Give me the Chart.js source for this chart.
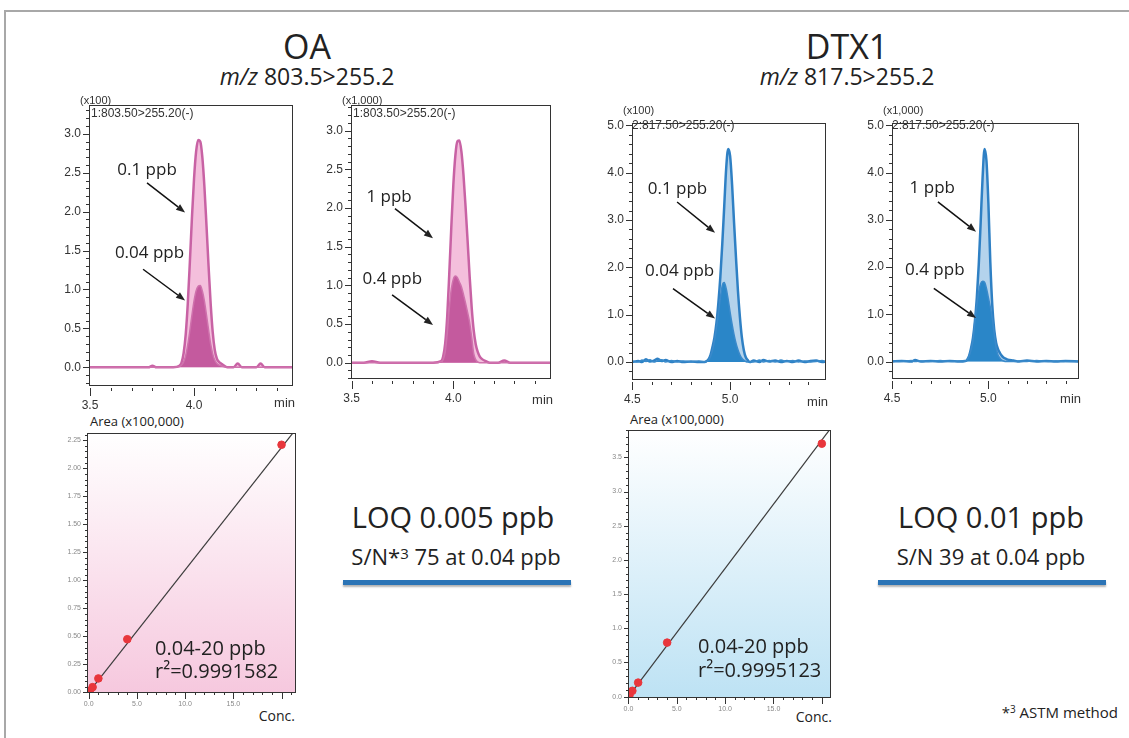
<!DOCTYPE html>
<html>
<head>
<meta charset="utf-8">
<script src="https://cdn.jsdelivr.net/npm/chart.js@4.4.1/dist/chart.umd.min.js"></script>
<style>
  body { margin: 0; width: 1129px; height: 738px; position: relative; overflow: hidden; background: #fff; font-family: "Open Sans", sans-serif; color: #222; }
  .frame { position: absolute; left: 4px; top: 10px; width: 1200px; height: 800px; border-left: 2px solid #a8a8a8; border-top: 2px solid #a8a8a8; }
  .t { position: absolute; white-space: nowrap; line-height: 1; }
  .c { width: 400px; text-align: center; }
  .bar { position: absolute; height: 5px; width: 228px; background: #2b74b6; box-shadow: 0 2px 2px rgba(0,0,0,.3); }
  canvas { position: absolute; }
</style>
</head>
<body>
<div class="frame"></div>

<div class="t c" style="left:107px;top:29px;font-size:34px">OA</div>
<div class="t c" style="left:107px;top:65px;font-size:23px"><i>m/z</i> 803.5&gt;255.2</div>
<div class="t c" style="left:647px;top:29px;font-size:34px">DTX1</div>
<div class="t c" style="left:647px;top:65px;font-size:23px"><i>m/z</i> 817.5&gt;255.2</div>

<div class="t c" style="left:253px;top:502px;font-size:29px">LOQ 0.005 ppb</div>
<div class="t c" style="left:256px;top:545px;font-size:22px">S/N*<span style="font-size:15px;vertical-align:6px">3</span> 75 at 0.04 ppb</div>
<div class="bar" style="left:343px;top:580px"></div>
<div class="t c" style="left:791px;top:502px;font-size:29px">LOQ 0.01 ppb</div>
<div class="t c" style="left:791px;top:545px;font-size:22px">S/N 39 at 0.04 ppb</div>
<div class="bar" style="left:878px;top:580px"></div>

<div class="t" style="right:11px;top:704px;font-size:15px">*<span style="font-size:10px;vertical-align:5px">3</span> ASTM method</div>

<div class="t" style="left:90px;top:415px;font-size:13px">Area (x100,000)</div>
<div class="t" style="left:630px;top:413px;font-size:13px">Area (x100,000)</div>
<div class="t" style="right:834px;top:709px;font-size:14px">Conc.</div>
<div class="t" style="right:297px;top:710px;font-size:14px">Conc.</div>

<canvas id="oaA" width="244" height="329" style="left:59px;top:85px"></canvas>
<canvas id="oaB" width="240" height="322" style="left:321px;top:85px"></canvas>
<canvas id="dtxA" width="234" height="305" style="left:602px;top:103px"></canvas>
<canvas id="dtxB" width="227" height="304" style="left:862px;top:103px"></canvas>
<canvas id="oaCal" width="245" height="315" style="left:57px;top:413px"></canvas>
<canvas id="dtxCal" width="239" height="323" style="left:598px;top:410px"></canvas>

<div class="t" style="left:155px;top:638px;font-size:20px">0.04-20 ppb</div>
<div class="t" style="left:155px;top:661px;font-size:20px">r²=0.9991582</div>
<div class="t" style="left:698px;top:636px;font-size:20px">0.04-20 ppb</div>
<div class="t" style="left:698px;top:660px;font-size:20px">r²=0.9995123</div>

<script>
// OA, 0.1 ppb vs 0.04 ppb (x100)
const oaTimesA = [3.50, 3.60, 3.70, 3.78, 3.80, 3.82, 3.90, 3.93, 3.94, 3.95, 3.96, 3.97, 3.98, 3.99, 4.00, 4.01, 4.02, 4.03, 4.04, 4.05, 4.06, 4.07, 4.08, 4.09, 4.10, 4.11, 4.12, 4.13, 4.14, 4.16, 4.19, 4.21, 4.23, 4.26, 4.30, 4.32, 4.34, 4.38, 4.44, 4.48];
const oaHighA = [0, 0, 0, 0, 0.02, 0, 0, 0.02, 0.06, 0.18, 0.42, 0.82, 1.35, 1.92, 2.42, 2.77, 2.92, 2.90, 2.70, 2.32, 1.82, 1.30, 0.82, 0.45, 0.22, 0.11, 0.07, 0.05, 0.03, 0, 0, 0.05, 0, 0, 0, 0.05, 0, 0, 0, 0];
const oaLowA = [0, 0, 0, 0, 0, 0, 0, 0.01, 0.03, 0.07, 0.15, 0.29, 0.47, 0.67, 0.85, 0.98, 1.04, 1.05, 0.98, 0.85, 0.67, 0.48, 0.30, 0.17, 0.09, 0.05, 0.03, 0.02, 0.01, 0, 0, 0, 0, 0, 0, 0, 0, 0, 0, 0];

// OA, 1 ppb vs 0.4 ppb (x1,000)
const oaTimesB = [3.50, 3.56, 3.60, 3.64, 3.75, 3.90, 3.94, 3.95, 3.96, 3.97, 3.98, 3.99, 4.00, 4.01, 4.02, 4.03, 4.04, 4.05, 4.06, 4.07, 4.08, 4.09, 4.10, 4.11, 4.12, 4.13, 4.14, 4.16, 4.18, 4.22, 4.25, 4.28, 4.35, 4.48];
const oaHighB = [0, 0, 0.02, 0, 0, 0, 0.02, 0.08, 0.25, 0.60, 1.15, 1.75, 2.30, 2.68, 2.86, 2.87, 2.72, 2.42, 2.02, 1.58, 1.12, 0.72, 0.42, 0.24, 0.14, 0.08, 0.05, 0.02, 0, 0, 0.03, 0, 0, 0];
const oaLowB = [0, 0, 0, 0, 0, 0, 0.01, 0.04, 0.14, 0.38, 0.70, 0.95, 1.08, 1.12, 1.10, 1.04, 0.98, 0.88, 0.77, 0.65, 0.52, 0.33, 0.12, 0.04, 0.01, 0, 0, 0, 0, 0, 0, 0, 0, 0];

// DTX1, 0.1 ppb vs 0.04 ppb (x100)
const dtxTimesA = [4.50, 4.53, 4.55, 4.57, 4.59, 4.61, 4.63, 4.65, 4.67, 4.70, 4.73, 4.76, 4.80, 4.84, 4.87, 4.88, 4.89, 4.90, 4.91, 4.92, 4.93, 4.94, 4.95, 4.96, 4.97, 4.98, 4.99, 5.00, 5.01, 5.02, 5.03, 5.04, 5.05, 5.06, 5.07, 5.08, 5.09, 5.10, 5.12, 5.15, 5.17, 5.20, 5.23, 5.26, 5.29, 5.32, 5.35, 5.38, 5.41, 5.44, 5.47, 5.49];
const dtxHighA = [0, 0.02, 0, 0.06, 0.01, 0.03, 0.07, 0.02, 0.04, 0, 0.02, 0, 0.01, 0, 0, 0.02, 0.06, 0.15, 0.32, 0.52, 0.82, 1.25, 1.80, 2.50, 3.30, 4.10, 4.50, 4.35, 3.75, 2.95, 2.20, 1.50, 0.95, 0.52, 0.25, 0.10, 0.04, 0, 0.03, 0, 0.04, 0.01, 0.03, 0, 0.02, 0, 0.03, 0, 0.02, 0.03, 0, 0.01];
const dtxLowA = [0.02, 0, 0.04, 0.01, 0.05, 0, 0.03, 0.05, 0, 0.03, 0, 0.02, 0, 0.02, 0, 0.01, 0.04, 0.12, 0.25, 0.45, 0.72, 1.02, 1.35, 1.62, 1.68, 1.55, 1.32, 1.05, 0.80, 0.58, 0.40, 0.26, 0.15, 0.08, 0.04, 0.01, 0, 0, 0, 0.04, 0, 0.03, 0, 0.04, 0.01, 0.03, 0, 0.02, 0, 0.01, 0.03, 0];

// DTX1, 1 ppb vs 0.4 ppb (x1,000)
const dtxTimesB = [4.50, 4.55, 4.60, 4.62, 4.65, 4.70, 4.75, 4.80, 4.85, 4.88, 4.89, 4.90, 4.91, 4.92, 4.93, 4.94, 4.95, 4.96, 4.97, 4.98, 4.99, 5.00, 5.01, 5.02, 5.03, 5.04, 5.05, 5.06, 5.07, 5.08, 5.09, 5.10, 5.13, 5.16, 5.20, 5.25, 5.30, 5.35, 5.40, 5.47];
const dtxHighB = [0, 0.01, 0, 0.03, 0, 0.01, 0, 0.01, 0, 0.01, 0.04, 0.12, 0.28, 0.50, 0.85, 1.35, 2.05, 2.95, 3.90, 4.50, 4.25, 3.35, 2.10, 1.20, 0.68, 0.40, 0.26, 0.18, 0.12, 0.08, 0.06, 0.04, 0.02, 0, 0.02, 0, 0.01, 0, 0.01, 0];
const dtxLowB = [0.01, 0, 0.02, 0, 0.01, 0, 0.02, 0, 0.01, 0.01, 0.04, 0.12, 0.25, 0.45, 0.85, 1.20, 1.48, 1.65, 1.70, 1.68, 1.55, 1.35, 1.15, 0.92, 0.60, 0.30, 0.14, 0.07, 0.03, 0.01, 0, 0, 0, 0.01, 0, 0.02, 0, 0.01, 0, 0];

// calibration curves (conc. ppb, area x100,000)
const oaCalConc = [0.04, 0.1, 0.4, 1, 4, 20];
const oaCalArea = [0.005, 0.012, 0.047, 0.125, 0.475, 2.21];
const oaFitConc = [0, 21.5];
const oaFitArea = [0, 2.35];
const dtxCalConc = [0.04, 0.1, 0.4, 1, 4, 20];
const dtxCalArea = [0.008, 0.02, 0.085, 0.205, 0.79, 3.70];
const dtxFitConc = [0, 21];
const dtxFitArea = [0, 3.94];

const pink = { line: "#c862a4", lowLine: "#cf72ad", highFill: "#f4bfdc", lowFill: "#c45a9e" };
const blue = { line: "#2f80c4", lowLine: "#3a8acb", highFill: "#b4d3ec", lowFill: "#2a86c8" };
const tickFont = { family: "Liberation Sans", size: 12 };
const tinyFont = { family: "Liberation Sans", size: 7 };

function isMultiple(v, step) {
    return Math.abs(v / step - Math.round(v / step)) < 1e-6;
}

function arrow(ctx, x1, y1, x2, y2) {
    const ang = Math.atan2(y2 - y1, x2 - x1);
    const bx = x2 - 9 * Math.cos(ang), by = y2 - 9 * Math.sin(ang);
    ctx.beginPath();
    ctx.moveTo(x1, y1);
    ctx.lineTo(bx, by);
    ctx.stroke();
    ctx.beginPath();
    ctx.moveTo(x2, y2);
    ctx.lineTo(bx + 3.5 * Math.sin(ang), by - 3.5 * Math.cos(ang));
    ctx.lineTo(bx - 3.5 * Math.sin(ang), by + 3.5 * Math.cos(ang));
    ctx.closePath();
    ctx.fill();
}

// frame, minor ticks, small labels and arrows, all placed through the chart scales
function decoPlugin(cfg) {
    return {
        id: "deco",
        beforeDraw(chart) {
            if (!cfg.gradient) return;
            const { ctx, chartArea: a } = chart;
            const g = ctx.createLinearGradient(0, a.top, 0, a.bottom);
            g.addColorStop(0, "#ffffff");
            g.addColorStop(1, cfg.gradient);
            ctx.save();
            ctx.fillStyle = g;
            ctx.fillRect(a.left, a.top, a.right - a.left, a.bottom - a.top);
            ctx.restore();
        },
        afterDraw(chart) {
            const { ctx, chartArea: a, scales: { x, y } } = chart;
            ctx.save();
            ctx.strokeStyle = "#333";
            ctx.lineWidth = 1;
            ctx.strokeRect(a.left + 0.5, a.top + 0.5, a.right - a.left - 1, a.bottom - a.top - 1);

            ctx.beginPath();
            for (let i = Math.ceil(y.min / cfg.yMinor - 1e-6); i * cfg.yMinor <= y.max + 1e-6; i++) {
                const v = i * cfg.yMinor;
                const py = Math.round(y.getPixelForValue(v)) + 0.5;
                ctx.moveTo(a.left, py);
                ctx.lineTo(a.left - (isMultiple(v, cfg.yMajor) ? cfg.major : cfg.minor), py);
            }
            for (let i = Math.ceil(x.min / cfg.xMinor - 1e-6); i * cfg.xMinor <= x.max + 1e-6; i++) {
                const v = i * cfg.xMinor;
                const px = Math.round(x.getPixelForValue(v)) + 0.5;
                ctx.moveTo(px, a.bottom + cfg.gap);
                ctx.lineTo(px, a.bottom + cfg.gap + (isMultiple(v, cfg.xMajor) ? cfg.major + 2 : cfg.minor));
            }
            ctx.stroke();

            ctx.fillStyle = "#333";
            if (cfg.scaleLabel) {
                ctx.font = '11px "Liberation Sans"';
                ctx.textBaseline = "alphabetic";
                ctx.textAlign = "left";
                ctx.fillText(cfg.scaleLabel, a.left - 9, a.top + cfg.scaleDy);
                ctx.font = '12px "Liberation Sans"';
                ctx.textBaseline = "middle";
                ctx.fillText(cfg.channel, a.left + cfg.chanDx, a.top + cfg.chanDy);
                ctx.textAlign = "right";
                ctx.font = '13px "Liberation Sans"';
                ctx.fillText("min", a.right + 2, a.bottom + cfg.minDy);
            }

            ctx.fillStyle = "#222";
            ctx.strokeStyle = "#111";
            ctx.lineWidth = 1.5;
            ctx.font = '17px "Open Sans"';
            ctx.textAlign = "center";
            ctx.textBaseline = "middle";
            (cfg.notes || []).forEach((n) => {
                ctx.fillText(n.text, x.getPixelForValue(n.at[0]), y.getPixelForValue(n.at[1]));
                arrow(ctx, x.getPixelForValue(n.from[0]), y.getPixelForValue(n.from[1]),
                    x.getPixelForValue(n.to[0]), y.getPixelForValue(n.to[1]));
            });
            ctx.restore();
        }
    };
}

function chromatogram(id, times, high, low, colors, xRange, yRange, yStep, deco) {
    const points = (vals) => times.map((t, i) => ({ x: t, y: vals[i] }));
    return new Chart(document.getElementById(id), {
        type: "line",
        data: {
            datasets: [
                { data: points(low), borderColor: colors.lowLine, backgroundColor: colors.lowFill, fill: "origin", borderWidth: 1.5, pointRadius: 0, cubicInterpolationMode: "monotone" },
                { data: points(high), borderColor: colors.line, backgroundColor: colors.highFill, fill: "origin", borderWidth: 2.5, pointRadius: 0, cubicInterpolationMode: "monotone" }
            ]
        },
        options: {
            responsive: false,
            animation: false,
            events: [],
            layout: { padding: { top: 20, right: 10, left: 0, bottom: 0 } },
            plugins: { legend: { display: false }, tooltip: { enabled: false } },
            scales: {
                x: {
                    type: "linear", min: xRange[0], max: xRange[1],
                    grid: { display: false, drawTicks: false }, border: { display: false },
                    ticks: { stepSize: 0.5, includeBounds: false, padding: 12, maxRotation: 0, autoSkip: false, font: tickFont, color: "#333", callback: (v) => v.toFixed(1) },
                    afterFit: (s) => { s.height = 28; }
                },
                y: {
                    min: yRange[0], max: yRange[1],
                    grid: { display: false, drawTicks: false }, border: { display: false },
                    ticks: { stepSize: yStep, includeBounds: false, padding: 8, font: tickFont, color: "#333", callback: (v) => v.toFixed(1) },
                    afterFit: (s) => { s.width = 30; }
                }
            }
        },
        plugins: [decoPlugin(Object.assign({ major: 6, minor: 3, gap: 2 }, deco))]
    });
}

function calibration(id, conc, area, fitConc, fitArea, xRange, yRange, yStep, yDigits, deco) {
    return new Chart(document.getElementById(id), {
        type: "scatter",
        data: {
            datasets: [
                { data: conc.map((c, i) => ({ x: c, y: area[i] })), backgroundColor: "#e8363c", borderColor: "#e8363c", pointRadius: 3.8 },
                { data: fitConc.map((c, i) => ({ x: c, y: fitArea[i] })), showLine: true, borderColor: "#3c3c3c", borderWidth: 1.2, pointRadius: 0 }
            ]
        },
        options: {
            responsive: false,
            animation: false,
            events: [],
            layout: { padding: { top: 20, right: 6, left: 0, bottom: 0 } },
            plugins: { legend: { display: false }, tooltip: { enabled: false } },
            scales: {
                x: {
                    min: xRange[0], max: xRange[1],
                    grid: { display: false, drawTicks: false }, border: { display: false },
                    ticks: { stepSize: 5, includeBounds: false, padding: 7, maxRotation: 0, autoSkip: false, font: tinyFont, color: "#888", callback: (v) => (v < 20 ? v.toFixed(1) : "") },
                    afterFit: (s) => { s.height = 35; }
                },
                y: {
                    min: yRange[0], max: yRange[1],
                    grid: { display: false, drawTicks: false }, border: { display: false },
                    ticks: { stepSize: yStep, includeBounds: false, padding: 6, font: tinyFont, color: "#888", callback: (v) => v.toFixed(yDigits) },
                    afterFit: (s) => { s.width = 30; }
                }
            }
        },
        plugins: [decoPlugin(Object.assign({ major: 4, minor: 2, gap: 0, xMinor: 1, xMajor: 5 }, deco))]
    });
}

chromatogram("oaA", oaTimesA, oaHighA, oaLowA, pink, [3.495, 4.476], [-0.24, 3.37], 0.5, {
    yMinor: 0.1, yMajor: 0.5, xMinor: 0.1, xMajor: 0.5,
    scaleLabel: "(x100)", scaleDy: -1, channel: "1:803.50>255.20(-)", chanDx: 2, chanDy: 9, minDy: 17,
    notes: [
        { text: "0.1 ppb", at: [3.774, 2.53], from: [3.774, 2.37], to: [3.957, 1.99] },
        { text: "0.04 ppb", at: [3.786, 1.47], from: [3.755, 1.26], to: [3.957, 0.86] }
    ]
});

chromatogram("oaB", oaTimesB, oaHighB, oaLowB, pink, [3.497, 4.48], [-0.21, 3.33], 0.5, {
    yMinor: 0.1, yMajor: 0.5, xMinor: 0.1, xMajor: 0.5,
    scaleLabel: "(x1,000)", scaleDy: -1, channel: "1:803.50>255.20(-)", chanDx: 2, chanDy: 9, minDy: 21,
    notes: [
        { text: "1 ppb", at: [3.684, 2.14], from: [3.713, 1.99], to: [3.90, 1.61] },
        { text: "0.4 ppb", at: [3.70, 1.08], from: [3.699, 0.876], to: [3.90, 0.488] }
    ]
});

chromatogram("dtxA", dtxTimesA, dtxHighA, dtxLowA, blue, [4.4985, 5.49], [-0.38, 5.05], 1, {
    yMinor: 0.2, yMajor: 1, xMinor: 0.1, xMajor: 0.5,
    scaleLabel: "(x100)", scaleDy: -9, channel: "2:817.50>255.20(-)", chanDx: 0, chanDy: 3, minDy: 22,
    notes: [
        { text: "0.1 ppb", at: [4.731, 3.66], from: [4.729, 3.38], to: [4.923, 2.73] },
        { text: "0.04 ppb", at: [4.742, 1.93], from: [4.708, 1.55], to: [4.923, 0.92] }
    ]
});

chromatogram("dtxB", dtxTimesB, dtxHighB, dtxLowB, blue, [4.5, 5.47], [-0.37, 5.05], 1, {
    yMinor: 0.2, yMajor: 1, xMinor: 0.1, xMajor: 0.5,
    scaleLabel: "(x1,000)", scaleDy: -9, channel: "2:817.50>255.20(-)", chanDx: 0, chanDy: 3, minDy: 20,
    notes: [
        { text: "1 ppb", at: [4.709, 3.68], from: [4.738, 3.38], to: [4.936, 2.75] },
        { text: "0.4 ppb", at: [4.722, 1.93], from: [4.717, 1.55], to: [4.936, 0.92] }
    ]
});

calibration("oaCal", oaCalConc, oaCalArea, oaFitConc, oaFitArea, [-0.18, 21.5], [-0.005, 2.315], 0.25, 2,
    { gradient: "#f6c8de", yMinor: 0.05, yMajor: 0.25 });

calibration("dtxCal", dtxCalConc, dtxCalArea, dtxFitConc, dtxFitArea, [-0.05, 20.95], [-0.02, 3.9], 0.5, 1,
    { gradient: "#bde2f4", yMinor: 0.1, yMajor: 0.5 });
</script>
</body>
</html>
